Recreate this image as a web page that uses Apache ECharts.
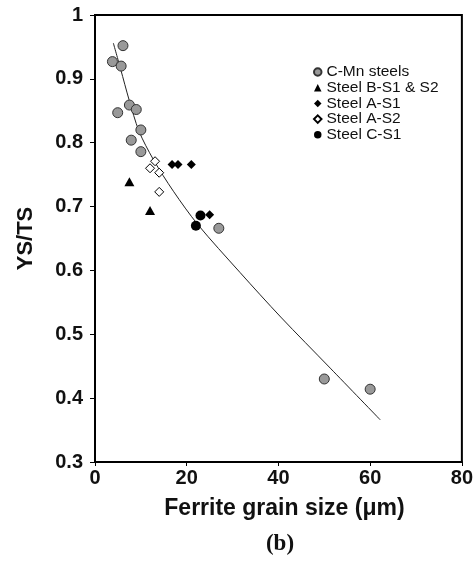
<!DOCTYPE html>
<html>
<head>
<meta charset="utf-8">
<script src="https://cdn.jsdelivr.net/npm/echarts@6/dist/echarts.min.js"></script>
<style>
  html, body { margin: 0; padding: 0; background: #fff; }
  #chart { width: 476px; height: 566px; }
</style>
</head>
<body>
<div id="chart"></div>
<script>
// YS/TS ratio against ferrite grain size (µm)
const cMnSteels = [[3.8, 0.927], [6.1, 0.952], [5.7, 0.920], [4.95, 0.847], [7.5, 0.859], [9.0, 0.852], [10.0, 0.820], [7.9, 0.804], [10.0, 0.786], [27.0, 0.666], [50.0, 0.430], [60.0, 0.414]];
const steelBS1S2 = [[7.5, 0.739], [12.0, 0.694]];
const steelAS1 = [[16.8, 0.766], [18.1, 0.766], [21.0, 0.766], [25.0, 0.687]];
const steelAS2 = [[13.1, 0.771], [12.0, 0.760], [14.0, 0.753], [14.0, 0.723]];
const steelCS1 = [[23.0, 0.686], [22.0, 0.670]];
// trend curve drawn through the data
const trendCurve = [[4.0, 0.956], [5.6, 0.915], [7.4, 0.868], [9.6, 0.818], [12.7, 0.774], [17.1, 0.724], [22.4, 0.672], [31.6, 0.597], [40.5, 0.527], [51.3, 0.447], [62.2, 0.366]];

const xTicks = { min: 0, max: 80, interval: 20 };
const yTicks = { min: 0.3, max: 1, interval: 0.1 };

const FONT = '"Liberation Sans", Arial, Helvetica, sans-serif';

const chart = echarts.init(document.getElementById('chart'), null, { renderer: 'canvas' });

const scatter = (name, data, symbol, size, fill, border, bw) => ({
  name, type: 'scatter', data, symbol, symbolSize: size,
  itemStyle: { color: fill, borderColor: border, borderWidth: bw, opacity: 1 },
  z: 3
});

chart.setOption({
  animation: false,
  backgroundColor: '#fff',
  grid: { left: 95, right: 14, top: 15, bottom: 104, show: true, borderColor: '#000', borderWidth: 2, backgroundColor: 'transparent' },
  xAxis: {
    type: 'value', min: xTicks.min, max: xTicks.max, interval: xTicks.interval,
    name: 'Ferrite grain size (\u03bcm)', nameLocation: 'middle', nameGap: 35,
    nameTextStyle: { fontFamily: FONT, fontWeight: 'bold', fontSize: 23, color: '#111', padding: [0, 0, 0, 12] },
    axisLine: { show: true, onZero: false, lineStyle: { color: '#000', width: 2 } },
    axisTick: { show: true, length: 4, lineStyle: { color: '#000', width: 1 } },
    axisLabel: { fontFamily: FONT, fontWeight: 'bold', fontSize: 20, color: '#111', margin: 6 },
    splitLine: { show: false }
  },
  yAxis: {
    type: 'value', min: yTicks.min, max: yTicks.max, interval: yTicks.interval,
    name: 'YS/TS', nameLocation: 'middle', nameGap: 58, nameRotate: 90,
    nameTextStyle: { fontFamily: FONT, fontWeight: 'bold', fontSize: 22, color: '#111' },
    axisLine: { show: true, onZero: false, lineStyle: { color: '#000', width: 2 } },
    axisTick: { show: true, length: 5, lineStyle: { color: '#000', width: 1 } },
    axisLabel: { fontFamily: FONT, fontWeight: 'bold', fontSize: 20, color: '#111', margin: 12,
      formatter: v => (Math.abs(v - 1) < 1e-9 ? '1' : v.toFixed(1)) },
    splitLine: { show: false }
  },
  legend: {
    orient: 'vertical', left: 308, top: 59,
    itemWidth: 7.5, itemHeight: 7.5, itemGap: -0.3,
    textStyle: { fontFamily: FONT, fontSize: 15.5, color: '#111' },
    data: ['C-Mn steels', 'Steel B-S1 & S2', 'Steel A-S1', 'Steel A-S2', 'Steel C-S1']
  },
  series: [
    {
      name: 'trend', type: 'line', data: trendCurve, smooth: 0.3, showSymbol: false, symbol: 'none',
      lineStyle: { color: '#222', width: 1 }, z: 2, silent: true
    },
    scatter('C-Mn steels', cMnSteels, 'circle', 10, '#999999', '#333', 1),
    scatter('Steel B-S1 & S2', steelBS1S2, 'triangle', [10, 9], '#000', '#000', 0),
    scatter('Steel A-S1', steelAS1, 'diamond', [9, 9], '#000', '#000', 0),
    scatter('Steel A-S2', steelAS2, 'diamond', [9, 9], '#fff', '#000', 1),
    scatter('Steel C-S1', steelCS1, 'circle', 10, '#000', '#000', 0)
  ],
  graphic: [{
    type: 'text', x: 280, y: 533,
    style: { text: '(b)', textAlign: 'center', fontFamily: '"Liberation Serif", "Times New Roman", serif', fontWeight: 'bold', fontSize: 23, fill: '#111' }
  }]
});
</script>
</body>
</html>
